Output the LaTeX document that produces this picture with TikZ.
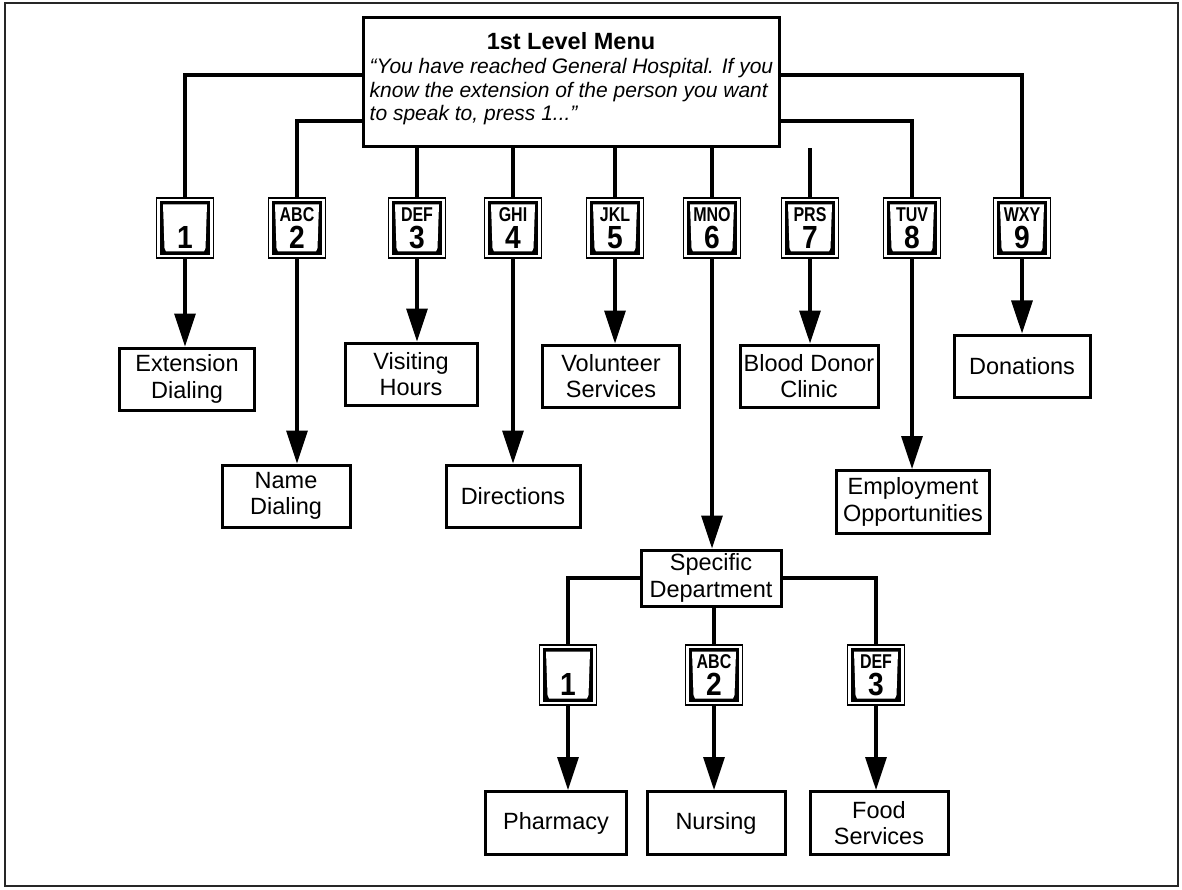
\documentclass[tikz,border=0pt]{standalone}
\usepackage{fontspec}
\setmainfont{Liberation Sans}
\usetikzlibrary{arrows.meta}
\tikzset{
  lbl/.style={draw, line width=3pt, fill=white, minimum width=135pt, minimum height=62pt,
    align=center, inner sep=2pt, font=\fontsize{23.5}{26.5}\selectfont},
  conn/.style={line width=3.2pt},
  arr/.style={line width=3.2pt, -{Triangle[length=33pt,width=21pt]}},
  keylet/.style={inner sep=0pt, anchor=base, font=\fontsize{20}{20}\bfseries, xscale=0.8},
  keydig/.style={inner sep=0pt, anchor=base, font=\fontsize{32}{32}\bfseries, xscale=0.88},
  keybtn/.style={draw, line width=1.4pt, fill=white, minimum width=57pt, minimum height=60pt,
    inner sep=0pt,
    path picture={
      \fill[black] ([shift={(3.2pt,-3.2pt)}]path picture bounding box.north west) rectangle
                   ([shift={(-3.2pt,3.2pt)}]path picture bounding box.south east);
      \fill[white] ([shift={(6.5pt,-6.5pt)}]path picture bounding box.north west) --
                   ([shift={(-6.5pt,-6.5pt)}]path picture bounding box.north east) --
                   ([shift={(-8pt,10pt)}]path picture bounding box.south east) --
                   ([shift={(-9.5pt,6.5pt)}]path picture bounding box.south east) --
                   ([shift={(9.5pt,6.5pt)}]path picture bounding box.south west) --
                   ([shift={(8pt,10pt)}]path picture bounding box.south west) -- cycle;
    }}
}
\newcommand\keypad[5]{%
  \node[keybtn] (#1) at (#2,#3) {};
  \node[keylet] (#1-l) at ([yshift=-24pt]#1.north) {#4};
  \node[keydig] (#1-d) at ([yshift=10pt]#1.south) {#5};
}
\begin{document}
\begin{tikzpicture}[x=1pt,y=-1pt]
\useasboundingbox (0,0) rectangle (1182,890);
\draw[line width=1.4pt, black!85] (5,3) rectangle (1178,886);

\node[draw, line width=3pt, fill=white, minimum width=416pt, minimum height=129pt, inner sep=0pt] (top) at (571,82.5) {};
\node[inner sep=0pt, font=\fontsize{23.5}{26}\selectfont\bfseries] (title) at ([yshift=-25pt]top.north) {1st Level Menu};
\node[inner sep=0pt, anchor=north west, align=left, font=\fontsize{21}{23.5}\selectfont\itshape] (quote)
  at ([shift={(8pt,-42pt)}]top.north west)
  {``You have reached General Hospital. If you\\know the extension of the person you want\\to speak to, press 1...''};

\keypad{k1}{185}{228}{}{1}
\keypad{k2}{297}{228}{ABC}{2}
\keypad{k3}{417}{228}{DEF}{3}
\keypad{k4}{513}{228}{GHI}{4}
\keypad{k5}{615}{228}{JKL}{5}
\keypad{k6}{712}{228}{MNO}{6}
\keypad{k7}{810}{228}{PRS}{7}
\keypad{k8}{912}{228}{TUV}{8}
\keypad{k9}{1022}{228}{WXY}{9}

\node[lbl] (ext) at (187,379) {Extension\\Dialing};
\node[lbl, minimum width=128pt] (name) at (286,496) {Name\\Dialing};
\node[lbl, minimum width=132pt] (visit) at (411,374) {Visiting\\Hours};
\node[lbl, minimum width=134pt] (dir) at (513,496) {Directions};
\node[lbl, minimum width=137pt] (vol) at (611,376) {Volunteer\\Services};
\node[lbl, minimum width=138pt] (blood) at (809,376) {Blood Donor\\Clinic};
\node[lbl, minimum width=136pt] (don) at (1022,366) {Donations};
\node[lbl, minimum width=153pt, minimum height=63pt] (emp) at (913,502) {Employment\\Opportunities};
\node[lbl, minimum width=140pt, minimum height=56pt] (spec) at (711,578) {Specific\\Department};

\keypad{s1}{568}{675}{}{1}
\keypad{s2}{714}{675}{ABC}{2}
\keypad{s3}{876}{675}{DEF}{3}

\node[lbl, minimum width=141pt, minimum height=63pt] (pharm) at (556,823) {Pharmacy};
\node[lbl, minimum width=138pt, minimum height=63pt] (nurse) at (716,823) {Nursing};
\node[lbl, minimum width=138pt, minimum height=63pt] (food) at (879,823) {Food\\Services};

% top menu connectors
\draw[conn] (k1.north) |- ([yshift=7.5pt]top.west);
\draw[conn] (k2.north) |- ([yshift=-38.5pt]top.west);
\draw[conn] (k9.north) |- ([yshift=7.5pt]top.east);
\draw[conn] (k8.north) |- ([yshift=-38.5pt]top.east);
\foreach \k in {k3,k4,k5,k6,k7} \draw[conn] (top.south -| \k) -- (\k.north);

% arrows to first level boxes
\draw[arr] (k1.south) -- (ext.north -| k1);
\draw[arr] (k2.south) -- (name.north -| k2);
\draw[arr] (k3.south) -- (visit.north -| k3);
\draw[arr] (k4.south) -- (dir.north -| k4);
\draw[arr] (k5.south) -- (vol.north -| k5);
\draw[arr] (k6.south) -- (spec.north -| k6);
\draw[arr] (k7.south) -- (blood.north -| k7);
\draw[arr] (k8.south) -- (emp.north -| k8);
\draw[arr] (k9.south) -- (don.north -| k9);

% second level
\draw[conn] (s1.north) |- (spec.west);
\draw[conn] (s3.north) |- (spec.east);
\draw[conn] (spec.south -| s2) -- (s2.north);
\draw[arr] (s1.south) -- (pharm.north -| s1);
\draw[arr] (s2.south) -- (nurse.north -| s2);
\draw[arr] (s3.south) -- (food.north -| s3);
\end{tikzpicture}
\end{document}
